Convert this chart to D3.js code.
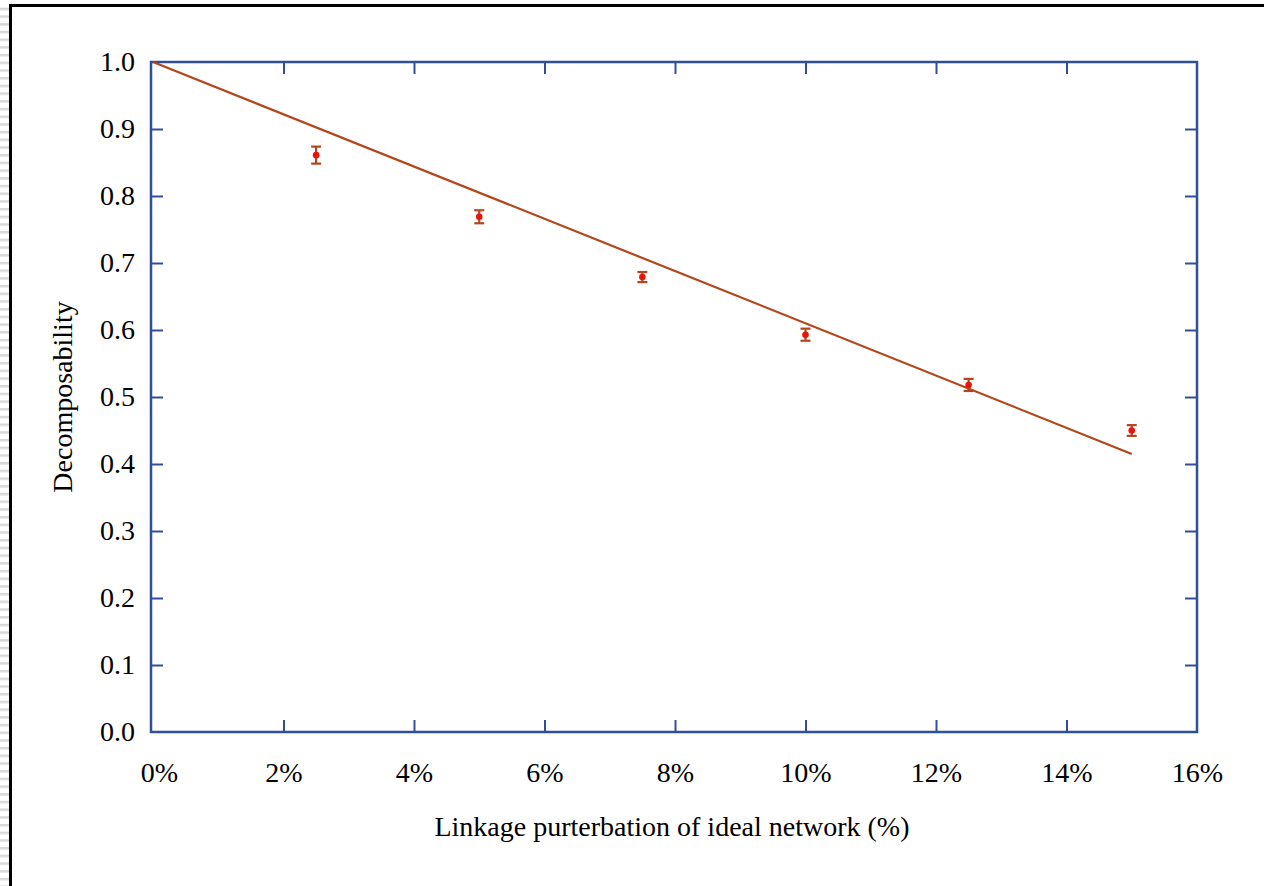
<!DOCTYPE html>
<html>
<head>
<meta charset="utf-8">
<script src="https://cdn.jsdelivr.net/npm/d3@7"></script>
<style>
  html, body { margin: 0; padding: 0; background: #fff; }
  svg { display: block; }
  .tick text { font-family: "Liberation Serif", "Times New Roman", serif; fill: #000; }
</style>
</head>
<body>
<svg id="chart" width="1264" height="886"></svg>
<script>
// values
const perturbation = [2.5, 5, 7.5, 10, 12.5, 15];            // % linkage perturbation
const decomposability = [0.861, 0.769, 0.679, 0.593, 0.518, 0.450];
const errors = [0.0127, 0.0097, 0.0075, 0.009, 0.009, 0.008];

// straight trend line drawn over the points
const trendX = [0, 15];
const trendY = [1.0, 0.415];

const xTicks = [0, 2, 4, 6, 8, 10, 12, 14, 16];
const yTicks = [0, 0.1, 0.2, 0.3, 0.4, 0.5, 0.6, 0.7, 0.8, 0.9, 1.0];

const axisColor = "#2f4e9c";
const lineColor = "#b4461b";
const dotColor = "#e8140c";

const frame = { left: 151, right: 1197, top: 62, bottom: 732 };

const svg = d3.select("#chart");

// striped strip at the far left and the outer black border
const defs = svg.append("defs");
const pat = defs.append("pattern")
  .attr("id", "stripes")
  .attr("width", 10).attr("height", 7.7)
  .attr("patternUnits", "userSpaceOnUse");
pat.append("rect").attr("width", 10).attr("height", 7.7).attr("fill", "#fff");
pat.append("rect").attr("y", 0).attr("width", 10).attr("height", 2.5).attr("fill", "#d8d8d8");

svg.append("rect")
  .attr("x", 0).attr("y", 0).attr("width", 9).attr("height", 886)
  .attr("fill", "url(#stripes)");
svg.append("rect")
  .attr("x", 0).attr("y", 0).attr("width", 1264).attr("height", 4)
  .attr("fill", "#fff");
svg.append("line")
  .attr("x1", 10.5).attr("x2", 1264).attr("y1", 5.5).attr("y2", 5.5)
  .attr("stroke", "#000").attr("stroke-width", 3);
svg.append("line")
  .attr("x1", 10.5).attr("x2", 10.5).attr("y1", 4).attr("y2", 886)
  .attr("stroke", "#000").attr("stroke-width", 3);

const x = d3.scaleLinear()
  .domain([0, 16])
  .range([frame.left + 2, frame.right]);

const y = d3.scaleLinear()
  .domain([0, 1])
  .range([frame.bottom, frame.top]);

const fontSize = 28;

function styleAxis(g) {
  g.select(".domain").remove();
  g.selectAll(".tick line").attr("stroke", axisColor).attr("stroke-width", 2);
  g.selectAll(".tick text").style("font-size", fontSize + "px");
}

// bottom axis, ticks point inward
const gx = svg.append("g")
  .attr("transform", "translate(0," + frame.bottom + ")")
  .call(d3.axisBottom(x).tickValues(xTicks)
    .tickSizeInner(-12).tickSizeOuter(0).tickPadding(30)
    .tickFormat(d => d + "%"))
  .call(styleAxis);
// no tick marks on the frame corners
gx.selectAll(".tick line").filter(d => d === 0 || d === 16).remove();
// first label sits a bit right of its tick in the original
gx.selectAll(".tick text").filter(d => d === 0).attr("dx", 6);

// top axis, ticks only
svg.append("g")
  .attr("transform", "translate(0," + frame.top + ")")
  .call(d3.axisTop(x).tickValues(xTicks.slice(1, -1))
    .tickSizeInner(-12).tickSizeOuter(0).tickFormat(""))
  .call(styleAxis);

// left axis
const gy = svg.append("g")
  .attr("transform", "translate(" + frame.left + ",0)")
  .call(d3.axisLeft(y).tickValues(yTicks)
    .tickSizeInner(-12).tickSizeOuter(0).tickPadding(16)
    .tickFormat(d3.format(".1f")))
  .call(styleAxis);
gy.selectAll(".tick line").filter(d => d === 0 || d === 1).remove();

// right axis, ticks only
svg.append("g")
  .attr("transform", "translate(" + frame.right + ",0)")
  .call(d3.axisRight(y).tickValues(yTicks.slice(1, -1))
    .tickSizeInner(-12).tickSizeOuter(0).tickFormat(""))
  .call(styleAxis);

// plot frame
svg.append("rect")
  .attr("x", frame.left).attr("y", frame.top)
  .attr("width", frame.right - frame.left)
  .attr("height", frame.bottom - frame.top)
  .attr("fill", "none")
  .attr("stroke", axisColor).attr("stroke-width", 2.5);

// trend line
const line = d3.line().x(d => x(d[0])).y(d => y(d[1]));
svg.append("path")
  .datum(d3.zip(trendX, trendY))
  .attr("d", line)
  .attr("fill", "none")
  .attr("stroke", lineColor)
  .attr("stroke-width", 2.2);

// error bars + points
const pts = perturbation.map((p, i) => ({ p: p, v: decomposability[i], e: errors[i] }));

const eb = svg.append("g")
  .attr("stroke", lineColor)
  .attr("stroke-width", 2.2);

eb.selectAll(".stem").data(pts).enter().append("line")
  .attr("x1", d => x(d.p)).attr("x2", d => x(d.p))
  .attr("y1", d => y(d.v - d.e)).attr("y2", d => y(d.v + d.e));

eb.selectAll(".capTop").data(pts).enter().append("line")
  .attr("x1", d => x(d.p) - 5).attr("x2", d => x(d.p) + 5)
  .attr("y1", d => y(d.v + d.e)).attr("y2", d => y(d.v + d.e));

eb.selectAll(".capBot").data(pts).enter().append("line")
  .attr("x1", d => x(d.p) - 5).attr("x2", d => x(d.p) + 5)
  .attr("y1", d => y(d.v - d.e)).attr("y2", d => y(d.v - d.e));

svg.append("g").selectAll("circle").data(pts).enter().append("circle")
  .attr("cx", d => x(d.p))
  .attr("cy", d => y(d.v))
  .attr("r", 3.3)
  .attr("fill", dotColor);

// axis titles
svg.append("text")
  .attr("x", (frame.left + frame.right) / 2 - 2)
  .attr("y", 836)
  .attr("text-anchor", "middle")
  .style("font-family", "'Liberation Serif', 'Times New Roman', serif")
  .style("font-size", fontSize + "px")
  .text("Linkage purterbation of ideal network (%)");

svg.append("text")
  .attr("transform", "translate(72," + ((frame.top + frame.bottom) / 2) + ") rotate(-90)")
  .attr("text-anchor", "middle")
  .style("font-family", "'Liberation Serif', 'Times New Roman', serif")
  .style("font-size", fontSize + "px")
  .text("Decomposability");
</script>
</body>
</html>
